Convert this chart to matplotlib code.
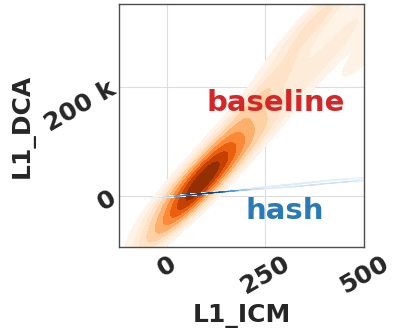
import numpy as np
import matplotlib
matplotlib.use("Agg")
import matplotlib.pyplot as plt
import matplotlib.ticker as mticker
import seaborn as sns

# baseline samples (L1_ICM, L1_DCA in thousands)
base_icm = [50, 50, 60, 60, 70, 70, 80, 80, 90, 90, 100, 100, 110, 110,
            85, 75, 95, 65, 105, 120, 40, 130, 85, 80,
            30, 25, 140, 160, 175, 200, 150, 190, 120,
            230, 260, 300, 340, 380, 420, 470, 530, 580, 320, 420, 620, 260]
base_dca_k = [-18, 24, -12, 32, -5, 38, 2, 44, 8, 50, 14, 56, 20, 62,
              26, 20, 32, 12, 38, 48, -10, 55, 10, 40,
              -28, -30, 75, 90, 130, 140, 50, 90, 90,
              175, 200, 240, 290, 330, 350, 320, 280, 240, 200, 260, 360, 130]

# hash samples
hash_icm = [45, 52, 58, 64, 70, 78, 86, 95, 105, 115, 125, 140, 160,
            180, 210, 240, 270, 300, 330, 360, 400, 440, 480, 520, 560, 620]
hash_dca_k = [0.4, 1.2, 1.9, 1.4, 2.4, 2.6, 3.8, 3.9, 5.0, 5.1, 6.2,
              6.6, 8.6, 9.5, 11.0, 15.0, 14.0, 19.5, 17.0, 24.0, 22.0, 30.0,
              27.0, 33.0, 30.0, 37.0]

sns.set_style("whitegrid")
plt.rcParams['font.family'] = ['DejaVu Sans']
plt.rcParams['font.weight'] = 'bold'

fig = plt.figure(figsize=(3.99, 3.35), dpi=100)
ax = fig.add_axes([0.298, 0.263, 0.614, 0.725])

base_x = np.array(base_icm, dtype=float)
base_y = np.array(base_dca_k, dtype=float) * 1000
hash_x = np.array(hash_icm, dtype=float)
hash_y = np.array(hash_dca_k, dtype=float) * 1000

sns.kdeplot(x=base_x, y=base_y, fill=True, cmap="Oranges", ax=ax, bw_adjust=0.85)
sns.kdeplot(x=hash_x, y=hash_y, fill=True, cmap="Blues", ax=ax, bw_adjust=0.45)

ax.set_xlim(-122, 500)
ax.set_ylim(-94000, 352000)
ax.set_xticks([0, 250, 500])
ax.set_yticks([0, 200000])
ax.yaxis.set_major_formatter(mticker.EngFormatter())

for sp in ax.spines.values():
    sp.set_color('#4d4d4d')
    sp.set_linewidth(1.0)
ax.grid(True, color='#dddddd', linewidth=0.8)
ax.set_axisbelow(True)

ax.tick_params(axis='both', labelsize=18, colors='#262626', length=0)
for lbl in ax.get_xticklabels():
    lbl.set_rotation(30)
    lbl.set_fontweight('bold')
for lbl in ax.get_yticklabels():
    lbl.set_rotation(30)
    lbl.set_rotation_mode('anchor')
    lbl.set_ha('right')
    lbl.set_va('center')
    lbl.set_fontweight('bold')

ax.set_xlabel("L1_ICM", fontsize=18, fontweight='bold', color='#262626')
ax.set_ylabel("L1_DCA", fontsize=18, fontweight='bold', color='#262626')

ax.text(277, 171000, "baseline", color='#d62728', fontsize=21,
        fontweight='bold', ha='center', va='center')
ax.text(300, -29000, "hash", color='#2a7ab8', fontsize=21,
        fontweight='bold', ha='center', va='center')

fig.savefig("out.png", dpi=100)
